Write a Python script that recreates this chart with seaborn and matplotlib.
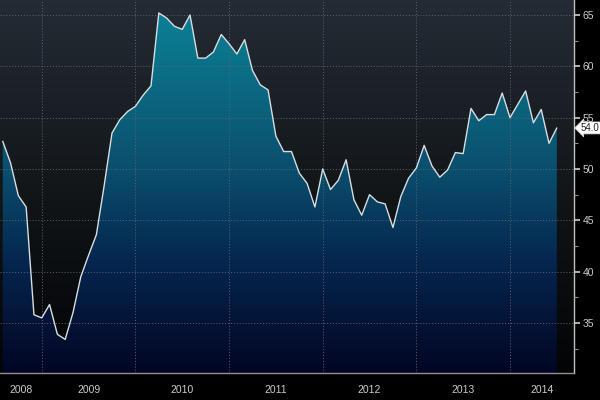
import numpy as np
import pandas as pd
import matplotlib
matplotlib.use("Agg")
import matplotlib.pyplot as plt
import seaborn as sns
from matplotlib.colors import LinearSegmentedColormap
from matplotlib.patches import PathPatch
from matplotlib.transforms import blended_transform_factory

# Monthly values, Aug 2008 .. Jul 2014
values = [52.7, 50.6, 47.4, 46.3, 35.8,
          35.5, 36.8, 33.9, 33.4, 36.0, 39.5, 41.6, 43.6, 48.4, 53.5, 54.8, 55.6,
          56.1, 57.2, 58.1, 65.2, 64.7, 63.9, 63.6, 65.0, 60.8, 60.8, 61.4, 63.1,
          62.2, 61.2, 62.6, 59.6, 58.2, 57.7, 53.2, 51.7, 51.7, 49.6, 48.6, 46.3,
          50.0, 48.0, 48.9, 50.9, 47.0, 45.5, 47.5, 46.8, 46.6, 44.3, 47.3, 49.1,
          50.1, 52.3, 50.3, 49.2, 49.9, 51.6, 51.5, 55.9, 54.7, 55.3, 55.3, 57.4,
          55.0, 56.3, 57.6, 54.5, 55.8, 52.5, 54.0]
dates = pd.date_range("2008-08-01", periods=len(values), freq="MS")
year_labels = ["2008", "2009", "2010", "2011", "2012", "2013", "2014"]
y_ticks = [35, 40, 45, 50, 55, 60, 65]
last_label = "54.0"

idx = np.arange(len(values))
df = pd.DataFrame({"i": idx, "v": values, "date": dates})

sns.set_style("dark")
plt.rcParams["font.family"] = ["Liberation Sans", "DejaVu Sans"]

fig = plt.figure(figsize=(6, 4), dpi=100, facecolor="black")
ax = fig.add_axes([0.0, 27 / 400, 574 / 600, 373 / 400])
ax.set_facecolor("black")

xlim = (-0.35, 73.2)
ylim = (30.13, 66.46)
ax.set_xlim(*xlim)
ax.set_ylim(*ylim)

# background gradient
bg_cmap = LinearSegmentedColormap.from_list(
    "bg", [(0.0, (0.01, 0.015, 0.025)), (0.45, (0.065, 0.08, 0.09)),
           (1.0, (0.14, 0.17, 0.205))])
grad = np.linspace(0, 1, 256).reshape(-1, 1)
ax.imshow(grad, cmap=bg_cmap, origin="lower", aspect="auto",
          extent=(xlim[0], xlim[1], ylim[0], ylim[1]), zorder=0)

# area gradient clipped to area under curve
poly = ax.fill_between(idx, values, ylim[0], color="none", lw=0)
fill_cmap = LinearSegmentedColormap.from_list(
    "fill", [(0.0, (0.01, 0.02, 0.14)), (0.3, (0.02, 0.15, 0.31)),
             (0.55, (0.04, 0.31, 0.43)), (1.0, (0.04, 0.52, 0.60))])
im = ax.imshow(grad, cmap=fill_cmap, origin="lower", aspect="auto",
               extent=(xlim[0], xlim[1], ylim[0], ylim[1]), zorder=1)
patch = PathPatch(poly.get_paths()[0], transform=ax.transData,
                  facecolor="none", edgecolor="none")
ax.add_patch(patch)
im.set_clip_path(patch)

sns.lineplot(data=df, x="i", y="v", ax=ax, color="#d8dde0", lw=1.0, zorder=3)
ax.set_xlim(*xlim)
ax.set_ylim(*ylim)

# year boundaries
year_starts = [i for i, d in enumerate(dates) if d.month == 1]
quarters = [i for i, d in enumerate(dates) if d.month in (4, 7, 10)]
ax.set_xticks(year_starts)
ax.set_xticks(quarters, minor=True)
ax.set_xticklabels([])
ax.tick_params(axis="x", which="major", direction="out", length=16,
               color="#5a5a5a", width=1.2)
ax.tick_params(axis="x", which="minor", direction="in", length=3,
               color="#b0b0b0", width=0.8)

bounds = [xlim[0]] + year_starts + [xlim[1]]
trans = blended_transform_factory(ax.transData, ax.transAxes)
for k, lab in enumerate(year_labels):
    cx = (bounds[k] + bounds[k + 1]) / 2
    ax.text(cx, -0.045, lab, transform=trans, ha="center", va="center",
            color="#c8ccd0", fontsize=7.5)

# right y axis
ax.yaxis.tick_right()
ax.set_yticks(y_ticks)
ax.set_yticks(np.arange(32.5, 66, 5), minor=True)
ax.set_yticklabels([str(t) for t in y_ticks], color="#c8ccd0", fontsize=7.5)
ax.tick_params(axis="y", which="major", direction="out", length=4,
               color="#d0d0d0", width=1.2, pad=2)
ax.tick_params(axis="y", which="minor", direction="out", length=3,
               color="#909090", width=0.8)
ax.set_xlabel("")
ax.set_ylabel("")

ax.grid(True, which="major", color="#5b646e", lw=0.7, ls=(0, (1, 2)))
ax.set_axisbelow(False)
for gl in ax.get_xgridlines() + ax.get_ygridlines():
    gl.set_zorder(2)

for s in ("left", "top"):
    ax.spines[s].set_visible(False)
ax.spines["right"].set_color("#c0c0c0")
ax.spines["right"].set_linewidth(1.0)
ax.spines["bottom"].set_color("#909090")
ax.spines["bottom"].set_linewidth(1.0)

# last value tag
ax.annotate(last_label, xy=(1.0, values[-1]),
            xycoords=blended_transform_factory(ax.transAxes, ax.transData),
            xytext=(5, 0), textcoords="offset points", ha="left", va="center",
            fontsize=7, color="#222222",
            bbox=dict(boxstyle="larrow,pad=0.1", fc="white", ec="#dddddd",
                      lw=0.5),
            annotation_clip=False, zorder=5)

fig.savefig("out.png", dpi=100, facecolor="black")
